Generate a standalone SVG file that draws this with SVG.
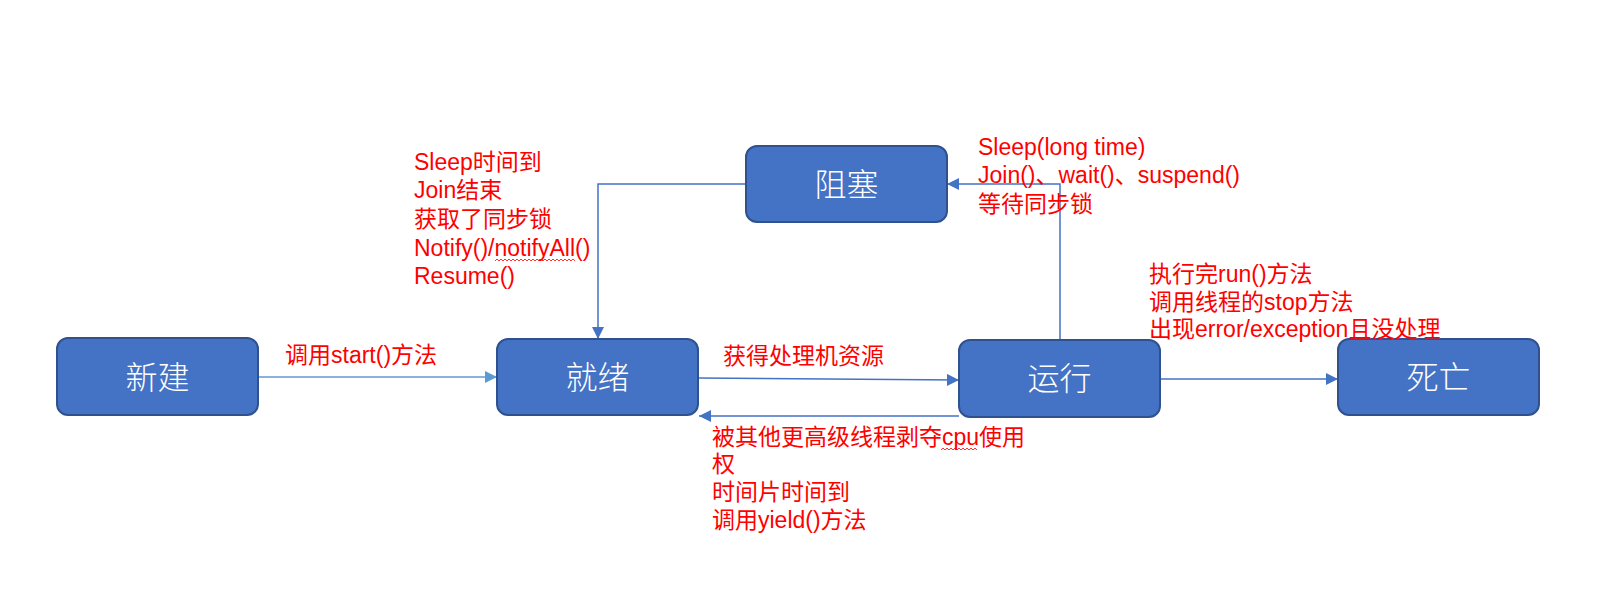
<svg xmlns="http://www.w3.org/2000/svg" width="1604" height="608" viewBox="0 0 1604 608">
<style>
.node rect{fill:#4472C4;stroke:#2F528F;stroke-width:2}
.node text{fill:#FFFFFF;font-family:"Noto Sans CJK SC","Liberation Sans",sans-serif;font-size:32px;font-weight:300;text-anchor:middle}
.lbl{fill:#FF0000;font-family:"Liberation Sans","Noto Sans CJK SC",sans-serif;font-size:23px}
.conn{fill:none;stroke:#4472C4;stroke-width:1.5}
.squig{fill:none;stroke:#FF0000;stroke-width:0.8}
</style>
<defs>
<marker id="ah" markerUnits="userSpaceOnUse" markerWidth="12" markerHeight="12" viewBox="0 0 12 12" refX="12" refY="6" orient="auto">
<path d="M0,0 L12,6 L0,12 Z" fill="#4472C4"/>
</marker>
<marker id="ah2" markerUnits="userSpaceOnUse" markerWidth="12" markerHeight="12" viewBox="0 0 12 12" refX="12" refY="6" orient="auto">
<path d="M0,0 L12,6 L0,12 Z" fill="#5B9BD5"/>
</marker>
</defs>
<rect width="1604" height="608" fill="#FFFFFF"/>
<g id="connectors">
<line class="conn" x1="258" y1="377" x2="497" y2="377" style="stroke:#5B9BD5" marker-end="url(#ah2)"/>
<line class="conn" x1="698" y1="378" x2="959" y2="380" marker-end="url(#ah)"/>
<line class="conn" x1="959" y1="416" x2="699" y2="416" marker-end="url(#ah)"/>
<polyline class="conn" points="746,184 598,184 598,339" marker-end="url(#ah)"/>
<polyline class="conn" points="1060,340 1060,184 947,184" marker-end="url(#ah)"/>
<line class="conn" x1="1160" y1="379" x2="1338" y2="379" marker-end="url(#ah)"/>
</g>
<g id="node-new" class="node"><rect x="57" y="338" width="201" height="77" rx="11"/><text x="157.5" y="389">新建</text></g>
<g id="node-ready" class="node"><rect x="497" y="339" width="201" height="76" rx="11"/><text x="597.5" y="389">就绪</text></g>
<g id="node-blocked" class="node"><rect x="746" y="146" width="201" height="76" rx="11"/><text x="846.5" y="196">阻塞</text></g>
<g id="node-running" class="node"><rect x="959" y="340" width="201" height="77" rx="11"/><text x="1059.5" y="390">运行</text></g>
<g id="node-dead" class="node"><rect x="1338" y="339" width="201" height="76" rx="11"/><text x="1438.5" y="389">死亡</text></g>
<g id="labels">
<text class="lbl" x="285" y="363">调用start()方法</text>
<text class="lbl" x="723" y="364">获得处理机资源</text>
<text class="lbl" x="414" y="170">Sleep时间到</text>
<text class="lbl" x="414" y="198">Join结束</text>
<text class="lbl" x="414" y="227">获取了同步锁</text>
<text class="lbl" x="414" y="256">Notify()/notifyAll()</text>
<text class="lbl" x="414" y="284">Resume()</text>
<text class="lbl" x="978" y="155">Sleep(long time)</text>
<text class="lbl" x="978" y="183">Join()、wait()、suspend()</text>
<text class="lbl" x="978" y="212">等待同步锁</text>
<text class="lbl" x="1149" y="282">执行完run()方法</text>
<text class="lbl" x="1149" y="310">调用线程的stop方法</text>
<text class="lbl" x="1149" y="337">出现error/exception且没处理</text>
<text class="lbl" x="712" y="445">被其他更高级线程剥夺cpu使用</text>
<text class="lbl" x="712" y="472">权</text>
<text class="lbl" x="712" y="500">时间片时间到</text>
<text class="lbl" x="712" y="528">调用yield()方法</text>
<path class="squig" d="M495,261 l2,-2 l2,2 l2,-2 l2,2 l2,-2 l2,2 l2,-2 l2,2 l2,-2 l2,2 l2,-2 l2,2 l2,-2 l2,2 l2,-2 l2,2 l2,-2 l2,2 l2,-2 l2,2 l2,-2 l2,2 l2,-2 l2,2 l2,-2 l2,2 l2,-2 l2,2 l2,-2 l2,2 l2,-2 l2,2 l2,-2 l2,2 l2,-2 l2,2 l2,-2 l2,2 l2,-2 l2,2"/>
<path class="squig" d="M941,450 l2,-2 l2,2 l2,-2 l2,2 l2,-2 l2,2 l2,-2 l2,2 l2,-2 l2,2 l2,-2 l2,2 l2,-2 l2,2 l2,-2 l2,2 l2,-2 l2,2"/>
</g>
</svg>
